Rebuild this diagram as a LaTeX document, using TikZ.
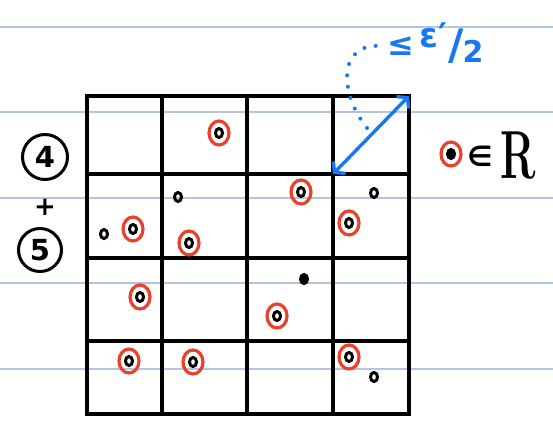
\documentclass[tikz,border=0pt]{standalone}
\usepackage{fontspec}
\usepackage{graphicx}
\newfontfamily\handfont{DejaVu Sans}
\usetikzlibrary{arrows.meta,shapes.geometric}
\definecolor{ruleblue}{HTML}{B3C5DF}
\definecolor{penred}{HTML}{E8412C}
\definecolor{penblue}{HTML}{1877F2}
\begin{document}
\begin{tikzpicture}[x=1pt,y=-1pt,
  ruleline/.style={ruleblue,line width=1.3pt},
  gridline/.style={black,line width=4.2pt},
  ring/.style={ellipse,draw=penred,line width=3.2pt,minimum width=20pt,minimum height=24pt,inner sep=0pt},
  dot/.style={ellipse,draw=black,line width=3pt,minimum width=7pt,minimum height=9pt,inner sep=0pt},
  fdot/.style={dot,fill=black},
  numcirc/.style={circle,draw=black,line width=3pt,inner sep=0pt,font=\fontsize{29}{29}\selectfont\handfont\bfseries},
  bluepen/.style={penblue,line width=3.4pt},
  bluetext/.style={inner sep=0pt,text=penblue,font=\handfont\bfseries}]
\useasboundingbox (0,0) rectangle (553,421);
% ruled paper
\foreach \y in {27,112,198,283,369} \draw[ruleline] (0,\y) -- (553,\y);
% grid
\foreach \x in {162,247,333} \draw[gridline] (\x,96) -- (\x,414);
\foreach \y in {174,258,341} \draw[gridline] (87,\y) -- (409,\y);
\draw[gridline] (87,96) rectangle (409,414);
% circled points
\foreach \i/\p in {1/{219,133},2/{301,192},3/{133,229},4/{189,243},5/{140,297},6/{277,316},7/{129,361},8/{193,362},9/{349,223},10/{349,357}}{
  \node[ring] (r\i) at (\p) {};
  \node[dot] (d\i) at (\p) {};
}
% plain points
\node[dot] (q1) at (104,234) {};
\node[dot] (q2) at (178,197) {};
\node[fdot] (q3) at (304,279) {};
\node[dot] (q4) at (374,193) {};
\node[dot] (q5) at (374,377) {};
% diagonal arrow
\coordinate (c1) at (333,174);
\coordinate (c2) at (409,96);
\draw[bluepen,{Straight Barb[length=7pt,width=17pt]}-{Straight Barb[length=7pt,width=17pt]}] (c1) -- (c2);
% label
\node[bluetext,font=\handfont\bfseries\fontsize{32}{32}\selectfont] (le) at (401,46) {≤};
\node[bluetext,font=\handfont\bfseries\fontsize{34}{34}\selectfont] (eps) at (433,35) {ε′};
\node[bluetext,font=\handfont\bfseries\fontsize{42}{42}\selectfont] (sl) at (456,46) {/};
\node[bluetext,font=\handfont\bfseries\fontsize{30}{30}\selectfont] (two) at (473,51) {2};
\coordinate (d0) at (367,128);
\draw[penblue,line width=4pt,line cap=round,dash pattern=on 0pt off 11.5pt] (d0) .. controls (340,95) and (336,42) .. ([xshift=-5pt]le.west);
% left labels
\node[numcirc,minimum size=45pt] (n4) at (45,157) {4};
\node[font=\fontsize{26}{26}\selectfont\handfont\bfseries] (plus) at (45,207) {+};
\node[numcirc,minimum size=43pt] (n5) at (40,250) {5};
% legend
\node[ring] (lr) at (451,154) {};
\node[fdot] (ld) at (451,154) {};
\node[inner sep=0pt,font=\handfont\bfseries\fontsize{28}{28}\selectfont] (in) at (480,156) {∈};
\node[inner sep=0pt] (R) at (518,156) {\scalebox{0.62}[1]{\fontsize{68}{68}\selectfont\bfseries R}};
\end{tikzpicture}
\end{document}
